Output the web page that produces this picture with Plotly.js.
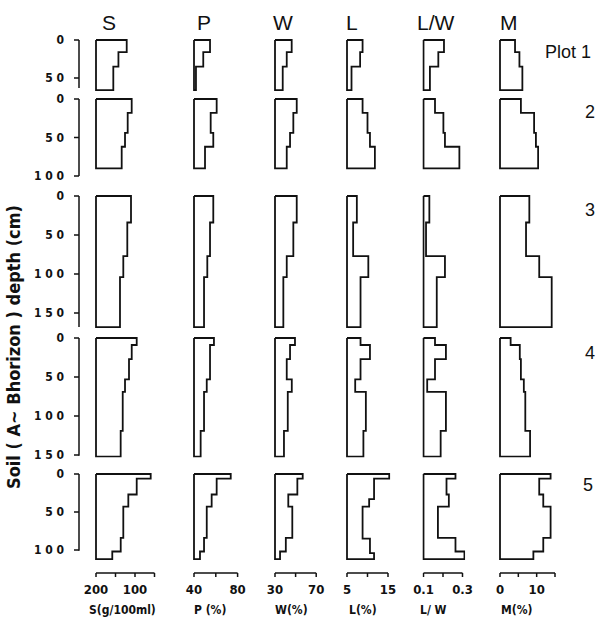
<!DOCTYPE html>
<html><head><meta charset="utf-8">
<script src="https://cdn.plot.ly/plotly-3.0.1.min.js"></script>
<style>html,body{margin:0;padding:0;background:#fff}</style>
</head><body><div id="chart" style="width:599px;height:617px"></div>
<script>
// ---------------- data ----------------
const variables = ["S", "P", "W", "L", "L/W", "M"];
const plotLabels = ["Plot 1", "2", "3", "4", "5"];
const axisTitles = ["S(g/100ml)", "P (%)", "W(%)", "L(%)", "L/ W", "M(%)"];
const xTickVals = [[20, 60, 100, 140], [40, 60, 80], [30, 50, 70], [5, 10, 15], [0.1, 0.2, 0.3], [0, 5, 10, 15]];
const xTickText = [["200", "", "100", ""], ["40", "", "80"], ["30", "", "70"], ["5", "", "15"], ["0.1", "", "0.3"], ["0", "", "10", ""]];
const yTickVals = [0, 50, 100, 150];
const yTickText = ["0", "5 0", "1 0 0", "1 5 0"];

// layer boundaries (cm) for each plot
const depth1 = [0, 16, 35, 66];
const depth2 = [0, 18, 44, 62, 90];
const depth3 = [0, 34, 77, 104, 168];
const depth4 = [0, 9, 27, 53, 69, 119, 152];
const depth5 = [0, 6, 27, 43, 84, 102, 112];
const depth5L = [0, 6, 33, 43, 85, 104, 112];

// Plot 1
const S1 = [83, 66, 55.5];
const P1 = [54.7, 48.5, 41.8];
const W1 = [46.2, 41.4, 37.5];
const L1 = [8.8, 8.2, 6.1];
const LW1 = [0.205, 0.176, 0.133];
const M1 = [4.1, 5.3, 6.1];
// Plot 2
const S2 = [93.2, 85, 79.5, 72.7];
const P2 = [60.8, 55.3, 57.7, 50.1];
const W2 = [51.1, 47.8, 44.6, 41.4];
const L2 = [8.8, 10, 10.6, 11.8];
const LW2 = [0.159, 0.202, 0.21, 0.284];
const M2 = [5.7, 9.3, 9.8, 10.4];
// Plot 3
const S3 = [91.8, 84.2, 76, 69.2];
const P3 = [57.7, 54.7, 52.2, 49.2];
const W3 = [51.1, 47.8, 41.4, 38.1];
const L3 = [7.4, 6.5, 10.2, 8.3];
const LW3 = [0.13, 0.113, 0.21, 0.168];
const M3 = [8, 7.1, 10.7, 14.1];
// Plot 4
const S4 = [103.5, 93.3, 87.7, 79.5, 74.8, 70.6];
const P4 = [58.3, 54.7, 54.7, 51.7, 49.2, 46.1];
const W4 = [49.4, 44.6, 41.4, 46.3, 42.4, 38.7];
const L4 = [8.3, 10.6, 8.3, 7, 9.6, 9];
const LW4 = [0.159, 0.215, 0.159, 0.119, 0.215, 0.188];
const M4 = [2.9, 5.4, 5.7, 6.5, 6.9, 8.2];
// Plot 5
const S5 = [132.2, 103.5, 86.3, 76, 70.7, 53.4];
const P5 = [73.7, 60.8, 56.2, 51.7, 49.2, 45.5];
const W5 = [56.9, 51.7, 42.9, 46.8, 40.5, 34.9];
const L5 = [15.3, 11.6, 10.4, 8.8, 10.6, 11.6];
const LW5 = [0.264, 0.218, 0.23, 0.174, 0.264, 0.31];
const M5 = [13.8, 10.7, 11.8, 13.8, 11.8, 9.1];

// ---------------- layout geometry ----------------
const W = 599, H = 617;
const narrow = '"Liberation Sans Narrow", "DejaVu Sans Condensed", "Liberation Sans", Arial, sans-serif';
const plain = '"Liberation Sans", Arial, Helvetica, sans-serif';
const ink = '#111';

const colAxisRange = [[20, 140], [40, 80], [30, 70], [5, 15], [0.1, 0.3], [0, 15]];
const colPx = [[96, 154.5], [194, 237.6], [275, 316.2], [347, 388], [423.5, 462.5], [500, 555]];
const padL = 1.2, padR = 2.6;
const rowTop = [40, 99, 196, 338, 474];
const rowK = [0.76, 0.77, 0.78, 0.78, 0.76];
const rowMax = [66, 100, 168, 152, 113];
const rowAxisEnd = [63, 100, 168, 151, 101];
const xAxisPx = 573, yAxisPx = 79, yTickLen = 5, xTickLen = 4;
const col1Left = yAxisPx - yTickLen - 1;      // first column's domain also holds the depth axes
const xAxisPaperY = 1 - xAxisPx / H;

const rows = [
  {d: depth1, v: [S1, P1, W1, L1, LW1, M1]},
  {d: depth2, v: [S2, P2, W2, L2, LW2, M2]},
  {d: depth3, v: [S3, P3, W3, L3, LW3, M3]},
  {d: depth4, v: [S4, P4, W4, L4, LW4, M4]},
  {d: depth5, v: [S5, P5, W5, L5, LW5, M5], dAlt: {3: depth5L}}
];

const traces = [];
rows.forEach((row, r) => {
  row.v.forEach((vals, c) => {
    const d = (row.dAlt && row.dAlt[c]) ? row.dAlt[c] : row.d;
    const b = colAxisRange[c][0];
    const xs = [b], ys = [0];
    for (let i = 0; i < vals.length; i++) {
      xs.push(vals[i], vals[i]);
      ys.push(d[i], d[i + 1]);
    }
    xs.push(b, b); ys.push(d[vals.length], 0);
    traces.push({
      type: 'scatter', mode: 'lines', x: xs, y: ys,
      xaxis: 'x' + (c + 1), yaxis: 'y' + (r + 1),
      line: {color: ink, width: 1.8}, hoverinfo: 'skip', showlegend: false
    });
  });
});

const layout = {
  width: W, height: H, margin: {l: 0, r: 0, t: 0, b: 0},
  paper_bgcolor: '#fff', plot_bgcolor: 'rgba(0,0,0,0)', showlegend: false,
  annotations: []
};
const axLine = {color: ink, width: 1.5};

// strip that holds the bottom value axes (units = px below the axis line)
layout.yaxis6 = {domain: [1 - (xAxisPx + 8) / H, 1 - (xAxisPx - 6) / H], range: [8, -6],
  visible: false, fixedrange: true};

const S_k = (colAxisRange[0][1] - colAxisRange[0][0]) / (colPx[0][1] - colPx[0][0]);
const xAtPx = px => colAxisRange[0][0] + (px - colPx[0][0]) * S_k;   // value on the first column's scale

colAxisRange.forEach((rg, c) => {
  const [p0, p1] = colPx[c];
  const k = (rg[1] - rg[0]) / (p1 - p0);
  const left = c === 0 ? col1Left : p0 - padL;
  layout['xaxis' + (c + 1)] = {
    domain: [left / W, (p1 + padR) / W],
    range: [rg[0] - (p0 - left) * k, rg[1] + padR * k],
    anchor: 'free', position: xAxisPaperY, side: 'bottom',
    showgrid: false, zeroline: false, showline: false, ticks: '',
    tickvals: xTickVals[c], ticktext: xTickText[c], ticklabelstandoff: 7,
    tickfont: {family: narrow, size: 13, color: ink, weight: 'bold'},
    fixedrange: true
  };
  // value-axis base line and its tick marks, drawn on the column's own scale
  const tx = [], ty = [];
  xTickVals[c].forEach(v => { tx.push(v, v, null); ty.push(0, xTickLen, null); });
  traces.push({type: 'scatter', mode: 'lines', x: [rg[0], rg[1], null].concat(tx), y: [0, 0, null].concat(ty),
    xaxis: 'x' + (c + 1), yaxis: 'y6', connectgaps: false, line: axLine, hoverinfo: 'skip', showlegend: false});
});

rowTop.forEach((top, r) => {
  const k = rowK[r];
  const padT = 1.5, padB = 1;
  const pxTop = top - padT, pxBot = top + rowMax[r] * k + padB;
  const tv = yTickVals.filter(v => v <= rowMax[r]);
  layout['yaxis' + (r + 1)] = {
    domain: [1 - pxBot / H, 1 - pxTop / H],
    range: [rowMax[r] + padB / k, -padT / k],
    anchor: 'x1', side: 'left',
    showgrid: false, zeroline: false, showline: false, ticks: '',
    tickvals: tv, ticktext: yTickText.slice(0, tv.length), ticklabelstandoff: 8,
    tickfont: {family: narrow, size: 12, color: ink, weight: 'bold'},
    fixedrange: true
  };
  // depth axis line and tick marks, drawn on the row's depth scale
  const xa = xAtPx(yAxisPx), xt = xAtPx(yAxisPx - yTickLen);
  const tx = [xa, xa, null], ty = [0, rowAxisEnd[r], null];
  tv.forEach(v => { tx.push(xa, xt, null); ty.push(v, v, null); });
  traces.push({type: 'scatter', mode: 'lines', x: tx, y: ty, xaxis: 'x1', yaxis: 'y' + (r + 1),
    connectgaps: false, line: axLine, hoverinfo: 'skip', showlegend: false});
});

// column headers
const headerPx = [109, 204, 283, 352, 436, 509];
variables.forEach((v, c) => {
  layout.annotations.push({text: v, x: headerPx[c] / W, y: 1 - 23 / H, xref: 'paper', yref: 'paper',
    xanchor: 'center', yanchor: 'middle', showarrow: false, font: {family: plain, size: 21, color: ink}});
});
// plot labels
const plotLabelPx = [[568, 52], [590, 112], [590, 210], [590, 353], [588, 485]];
plotLabels.forEach((t, r) => {
  layout.annotations.push({text: t, x: plotLabelPx[r][0] / W, y: 1 - plotLabelPx[r][1] / H, xref: 'paper', yref: 'paper',
    xanchor: 'center', yanchor: 'middle', showarrow: false, font: {family: plain, size: 18, color: ink}});
});
// x-axis titles
const titleLeftPx = [87, 192, 273, 347, 418, 499];
axisTitles.forEach((t, c) => {
  layout.annotations.push({text: t, x: titleLeftPx[c] / W, y: 1 - 610 / H, xref: 'paper', yref: 'paper',
    xanchor: 'left', yanchor: 'middle', showarrow: false, font: {family: narrow, size: 12, color: ink, weight: 'bold'}});
});
// y title
layout.annotations.push({text: 'Soil ( A~ Bhorizon ) depth (cm)', x: 13 / W, y: 1 - 347 / H, xref: 'paper', yref: 'paper',
  xanchor: 'center', yanchor: 'middle', textangle: -90, showarrow: false,
  font: {family: narrow, size: 18, color: ink, weight: 'bold'}});

Plotly.newPlot('chart', traces, layout, {staticPlot: true, displayModeBar: false});
</script></body></html>
